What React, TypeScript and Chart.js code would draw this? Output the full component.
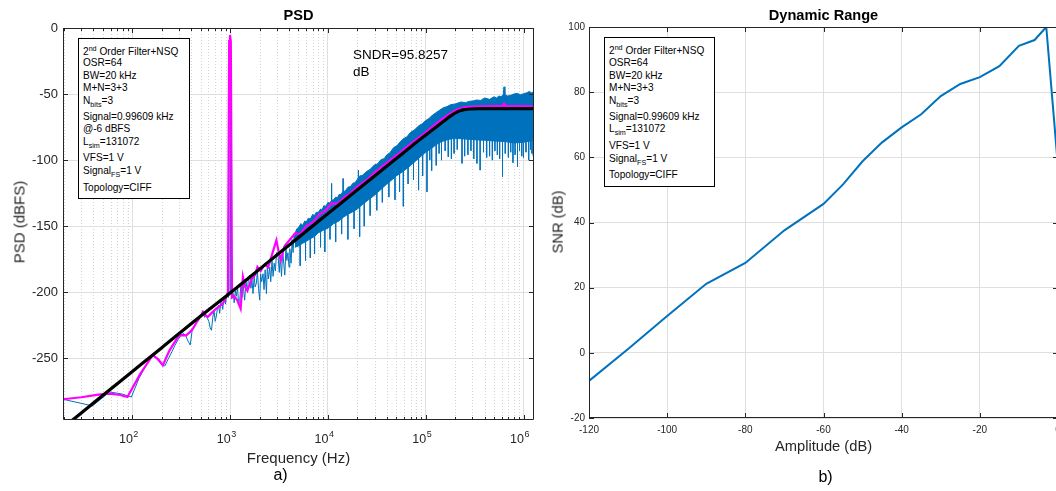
import React, { useEffect, useRef } from "react";
import { Chart, registerables } from "chart.js";

Chart.register(...registerables);

const FONT = "'Liberation Sans', Arial, Helvetica, sans-serif";
const AXIS_COLOR = "#262626";
const GRID = "#dfdfdf";
const MINOR_GRID = "#d4d4d4";
const BLUE = "#0072BD";
const MAGENTA = "#FF00FF";

// ---------------- PSD panel (a) ----------------
const freqMin = 19.53125;
const freqMax = 1280000;
const psdMin = -296.7;
const psdMax = 0;
const psdTicks = [-250, -200, -150, -100, -50, 0];
const freqDecades = [2, 3, 4, 5, 6];
const freqMinorMultiples = [1, 2, 3, 4, 5, 6, 7, 8, 9];
const freqTickExponents = [1, 2, 3, 4, 5, 6];

// blue PSD, low/mid frequency part (individual bins)
const blueFreq = [
  19.53, 39.06, 58.59, 78.13, 97.66, 117.2, 136.7, 156.3, 175.8, 195.3,
  214.8, 234.4, 253.9, 273.4, 293.0, 312.5, 332.0, 351.6, 371.1, 390.6,
  410.2, 429.7, 449.2, 468.8, 488.3, 507.8, 527.3, 546.9, 566.4, 585.9,
  605.5, 625.0, 644.5, 664.1, 683.6, 703.1, 722.7, 742.2, 761.7, 781.3,
  800.8, 820.3, 839.8, 859.4, 878.9, 898.4, 918.0, 937.5, 957.0, 976.6,
  996.1, 1015.6,
  1040, 1075, 1100, 1130, 1158, 1190, 1220, 1251, 1290, 1320,
  1353, 1380, 1408, 1450, 1500, 1540, 1585, 1630, 1670, 1713,
  1760, 1800, 1856, 1900, 1950, 2007, 2050, 2100, 2170, 2220,
  2280, 2351, 2400, 2460, 2542, 2600, 2680, 2748, 2820, 2900,
  2980, 3093, 3180, 3250, 3350, 3450, 3550, 3623, 3720, 3800,
  3900, 4000, 4076, 4200, 4300, 4400, 4500, 4586,
];
const bluePsd = [
  -281, -286, -275.5, -277, -279.3, -265, -256, -247.2, -250, -254,
  -255.8, -250, -245, -240, -236, -233, -231, -233, -237, -240,
  -228, -226, -223, -222, -219, -217, -214, -219, -217, -220,
  -222, -227, -228.8, -219, -214, -222, -218, -212, -210, -216,
  -208, -206, -213, -205, -203, -209, -202, -200, -204, -200,
  -6, -199,
  -203, -201, -208, -199, -203, -196, -209, -207, -194, -204,
  -191, -200, -206, -192, -199, -189, -187, -197, -190, -201,
  -188, -196, -193, -184, -197, -206, -186, -192, -186, -198,
  -183, -201, -180, -190, -181, -192, -176, -188, -178, -184,
  -170, -173, -185, -172, -188, -169, -180, -187, -166, -176,
  -170, -181, -167, -178, -160, -170, -157, -160,
];

// blue PSD, dense part: upper and lower edge of the band
const bandUpperFreq = [
  4586, 4800, 5000, 5300, 5500, 5800, 6000, 6300, 6600, 7000,
  7200, 7600, 8000, 8400, 8700, 9100, 9500, 10000, 10400, 10900,
  11400, 12000, 12500, 13000, 13600, 14300, 15000, 16000, 17000, 18000,
  19000, 20000, 20500, 21200, 22500, 25000, 27000, 30000, 32000, 35000,
  37500, 40000, 43000, 47000, 51000, 55000, 60000, 64000, 70000, 77000,
  85000, 92000, 100000, 108000, 115000, 125000, 137000, 150000, 165000, 180000,
  200000, 230000, 255000, 280000, 305000, 330000, 365000, 400000, 450000, 500000,
  530000, 560000, 590000, 620000, 632000, 645000, 690000, 750000, 810000, 870000,
  930000, 1000000, 1080000, 1150000, 1200000, 1280000,
];
const bandUpperPsd = [
  -156, -152, -151, -148, -149.5, -146, -147, -144, -144.5, -141,
  -142.5, -139.5, -139.5, -137, -137.5, -134.5, -135, -132, -132.5, -130.5,
  -130, -128, -128.5, -126, -126, -123.5, -123.5, -120.5, -120, -117.5,
  -117, -114.5, -113, -112, -111.5, -108.5, -107, -103.5, -103, -99.5,
  -99, -96, -94.5, -90.5, -89, -86, -83.5, -82.5, -79, -77,
  -74, -72.5, -70, -68.5, -66.5, -64.5, -62.5, -60.5, -59.5, -58,
  -57.5, -56, -56.5, -55.5, -55.2, -54.5, -54.8, -53, -54, -52,
  -53, -51.5, -52, -50.5, -44.5, -50.5, -51.5, -50.8, -49.8, -49.5,
  -50.5, -49.8, -49, -48, -49, -48.2,
];
const bandLowerFreq = [
  4586, 5000, 5500, 6000, 6600, 7200, 8000, 9000, 10000, 11500,
  13000, 14500, 16000, 18000, 20000, 23000, 26000, 30000, 35000, 40000,
  45000, 50000, 60000, 70000, 85000, 100000, 115000, 130000, 145000, 160000,
  180000, 200000, 250000, 300000, 400000, 500000, 650000, 800000, 1000000, 1280000,
];
const bandLowerPsd = [
  -166, -165, -163, -161.5, -159.5, -158, -155, -153, -151.5, -148,
  -146, -143, -141, -139, -137, -133, -130, -126.5, -122, -118,
  -115, -112, -108, -104, -98.5, -94, -91, -88, -86, -85,
  -84, -83.5, -84, -84.5, -85, -85.5, -86, -87, -86.5, -85,
];

// isolated blue spikes (from / to level)
const spikeFreq = [
  5200, 5900, 6600, 7300, 8400, 9300, 10500, 10900, 12000, 13800,
  14300, 16000, 18500, 20500, 21100, 23500, 27000, 31600, 36000, 42000,
  48500, 54000, 59000, 66000, 75000, 84500, 93000, 103000, 110000, 115000,
  128000, 137000, 145000, 158000, 170000, 183000, 195000, 210000, 235000, 250000,
  270000, 290000, 310000, 334000, 360000, 390000, 420000, 450000, 480000, 510000,
  540000, 570000, 610000, 650000, 700000, 740000, 780000, 820000, 868000, 910000,
  960000, 1000000, 1060000, 1130000, 1180000, 1220000, 1260000,
];
const spikeHigh = [
  -163, -160, -158, -156, -152, -150, -148, -117.7, -145, -141,
  -113.9, -139, -136, -107.6, -134, -131, -127, -123, -119, -115,
  -110, -108, -106, -103, -99, -96, -93, -91, -89, -88,
  -86, -85, -84, -83, -82, -82, -81, -81, -81, -81,
  -81, -81, -82, -82, -82, -82, -82, -82, -82, -83,
  -83, -83, -83, -83, -83, -84, -84, -84, -84, -84,
  -84, -84, -84, -83, -83, -82, -82,
];
const spikeLow = [
  -180, -176, -174, -171, -166, -169.5, -160, -132, -162, -156,
  -124, -160, -152, -114, -158, -150, -142, -138, -132, -128,
  -130, -124, -135, -118, -115, -122.7, -112, -124, -100, -108,
  -104, -95, -100, -93, -97.5, -99, -95, -92, -102.5, -97,
  -96, -93, -99, -102.5, -107.6, -94, -98, -97, -100, -93,
  -96, -99, -112.6, -95, -98, -94, -102, -96, -105, -93,
  -97, -98, -94, -100, -92, -95, -97,
];

// magenta (smoothed) PSD
const magentaFreq = [
  19.53, 30, 45, 58.6, 75, 89, 120, 162, 185, 205,
  240, 280, 303, 330, 355, 390, 417, 460, 500, 527,
  560, 590, 640, 690, 760, 845, 910, 950, 977, 996,
  1016, 1045, 1100, 1180, 1280, 1350, 1420, 1500, 1650, 1800,
  1900, 2050, 2250, 2450, 2640, 2970, 3150, 3300, 3600, 4000,
  4600, 5200, 6000, 7000, 8200, 9500, 10900, 12500, 14900, 17000,
  20000, 25000, 30000, 40000, 50000, 65000, 80000, 100000, 125000, 150000,
  180000, 210000, 250000, 300000, 400000, 500000, 600000, 620000, 632000, 645000,
  700000, 900000, 1100000, 1280000,
];
const magentaPsd = [
  -281, -279.5, -277.5, -276.8, -277.8, -279.3, -262, -247.5, -251, -255.3,
  -244, -236, -232.6, -232.5, -232.6, -230, -227.5, -222, -218, -215,
  -217.5, -218.7, -216, -213.6, -211, -208.6, -203.5, -201, -10, -5.3,
  -10, -204, -203, -206, -212.4, -188.4, -196, -199, -190, -187,
  -180.8, -184, -179, -181, -173, -160.6, -170, -175.8, -165, -161,
  -155.5, -156, -150, -147, -141, -138, -132.8, -133, -127.8, -125,
  -120, -115, -109.5, -102, -96.5, -89.5, -84.5, -79, -73, -68.5,
  -64.5, -61.5, -60, -59.5, -59.3, -59.2, -59.2, -58.5, -57.3, -58.8,
  -59.3, -59.2, -59.3, -59.3,
];

// black theoretical NTF line
const ntfFreq = [
  20, 50, 100, 200, 500, 1000, 2000, 5000, 10000, 20000,
  30000, 50000, 70000, 100000, 130000, 150000, 180000, 210000, 240000, 280000,
  350000, 500000, 1280000,
];
const ntfPsd = [
  -302, -278, -260, -242, -218, -200.5, -182.5, -158.5, -140.5, -122.5,
  -112, -98.8, -90, -81, -74.5, -71, -66.5, -63.5, -62, -61.3,
  -61, -61, -61,
];

// ---------------- Dynamic range panel (b) ----------------
const amplitudeDb = [-120, -110, -100, -90, -80, -70, -60, -55, -50, -45, -40, -35, -30, -25, -20, -15, -10, -6, -3, 0];
const snrDb = [-8.6, 1.2, 11.3, 21.2, 27.6, 37.6, 45.7, 51.7, 58.8, 64.6, 69.2, 73.2, 78.8, 82.5, 84.6, 88.0, 94.2, 96.0, 100.0, 57.0];
const drXTicks = [-120, -100, -80, -60, -40, -20, 0];
const drYTicks = [-20, 0, 20, 40, 60, 80, 100];

// ---------------- helpers ----------------
const pts = (xs: number[], ys: number[]) => xs.map((x, i) => ({ x, y: ys[i] }));
const isDecade = (v: number) => Math.abs(Math.log10(v) - Math.round(Math.log10(v))) < 1e-9;
const freqTickValues: number[] = [];
freqTickExponents.forEach((e) => {
  freqMinorMultiples.forEach((m) => {
    const v = m * Math.pow(10, e);
    if (v >= freqMin && v <= freqMax) freqTickValues.push(v);
  });
});

function boxPlugin(majorLen: number, minorLen: number, isMajorX: (v: number) => boolean) {
  return {
    id: "matlabBox",
    afterDatasetsDraw(chart: any) {
      const { ctx, chartArea: a, scales } = chart;
      const x = scales.x;
      const y = scales.y;
      ctx.save();
      ctx.strokeStyle = AXIS_COLOR;
      ctx.lineWidth = 1;
      ctx.setLineDash([]);
      ctx.beginPath();
      ctx.rect(a.left + 0.5, a.top + 0.5, a.right - a.left - 1, a.bottom - a.top - 1);
      ctx.stroke();
      ctx.beginPath();
      for (const t of x.ticks) {
        const px = Math.round(x.getPixelForValue(t.value)) + 0.5;
        if (px < a.left || px > a.right) continue;
        const len = isMajorX(t.value) ? majorLen : minorLen;
        ctx.moveTo(px, a.top);
        ctx.lineTo(px, a.top + len);
        ctx.moveTo(px, a.bottom);
        ctx.lineTo(px, a.bottom - len);
      }
      for (const t of y.ticks) {
        const py = Math.round(y.getPixelForValue(t.value)) + 0.5;
        ctx.moveTo(a.left, py);
        ctx.lineTo(a.left + majorLen, py);
        ctx.moveTo(a.right, py);
        ctx.lineTo(a.right - majorLen, py);
      }
      ctx.stroke();
      ctx.restore();
    },
  };
}

const minorGridPlugin = {
  id: "minorGrid",
  beforeDatasetsDraw(chart: any) {
    const { ctx, chartArea: a, scales } = chart;
    const x = scales.x;
    ctx.save();
    ctx.strokeStyle = MINOR_GRID;
    ctx.lineWidth = 1;
    ctx.setLineDash([1, 2]);
    ctx.beginPath();
    for (const t of x.ticks) {
      if (isDecade(t.value)) continue;
      const px = Math.round(x.getPixelForValue(t.value)) + 0.5;
      ctx.moveTo(px, a.top);
      ctx.lineTo(px, a.bottom);
    }
    ctx.stroke();
    ctx.restore();
  },
};

const expLabelPlugin = {
  id: "expLabels",
  afterDraw(chart: any) {
    const { ctx, chartArea: a, scales } = chart;
    const x = scales.x;
    ctx.save();
    ctx.fillStyle = AXIS_COLOR;
    ctx.textBaseline = "alphabetic";
    for (const e of freqDecades) {
      const px = x.getPixelForValue(Math.pow(10, e));
      ctx.font = `12.5px ${FONT}`;
      ctx.textAlign = "right";
      ctx.fillText("10", px + 0.5, a.bottom + 22.5);
      ctx.font = `9px ${FONT}`;
      ctx.textAlign = "left";
      ctx.fillText(String(e), px + 1, a.bottom + 16.5);
    }
    ctx.restore();
  },
};

function PsdChart() {
  const ref = useRef<HTMLCanvasElement>(null);
  useEffect(() => {
    const chart = new Chart(ref.current as HTMLCanvasElement, {
      type: "line",
      data: {
        datasets: [
          {
            data: pts(ntfFreq, ntfPsd),
            borderColor: "#000000",
            borderWidth: 3.2,
            pointRadius: 0,
            cubicInterpolationMode: "monotone",
            order: 0,
          },
          {
            data: pts(magentaFreq, magentaPsd),
            borderColor: MAGENTA,
            borderWidth: 2.2,
            pointRadius: 0,
            tension: 0,
            order: 1,
          },
          {
            data: pts(bandUpperFreq, bandUpperPsd),
            borderColor: BLUE,
            backgroundColor: BLUE,
            borderWidth: 1,
            pointRadius: 0,
            fill: "+1",
            order: 3,
          },
          {
            data: pts(bandLowerFreq, bandLowerPsd),
            borderColor: BLUE,
            borderWidth: 1,
            pointRadius: 0,
            fill: false,
            order: 3,
          },
          {
            data: spikeFreq.flatMap((f, i) => [
              { x: f, y: spikeHigh[i] },
              { x: f, y: spikeLow[i] },
              { x: f, y: null as any },
            ]),
            borderColor: BLUE,
            borderWidth: 1,
            pointRadius: 0,
            spanGaps: false,
            order: 2,
          },
          {
            data: pts(blueFreq, bluePsd),
            borderColor: BLUE,
            borderWidth: 1,
            pointRadius: 0,
            order: 2,
          },
        ],
      },
      options: {
        animation: false,
        responsive: false,
        devicePixelRatio: 1,
        events: [],
        layout: { padding: { left: 0, right: 6, top: 28, bottom: 0 } },
        plugins: { legend: { display: false }, tooltip: { enabled: false }, title: { display: false } },
        scales: {
          x: {
            type: "logarithmic",
            min: freqMin,
            max: freqMax,
            afterBuildTicks: (s: any) => {
              s.ticks = freqTickValues.map((v) => ({ value: v }));
            },
            afterFit: (s: any) => {
              s.height = 71;
            },
            ticks: { display: false, autoSkip: false },
            grid: {
              drawTicks: false,
              color: (c: any) => (c.tick && isDecade(c.tick.value) ? GRID : "rgba(0,0,0,0)"),
              lineWidth: 1,
            },
            border: { display: false },
          },
          y: {
            type: "linear",
            min: psdMin,
            max: psdMax,
            afterBuildTicks: (s: any) => {
              s.ticks = psdTicks.map((v) => ({ value: v }));
            },
            afterFit: (s: any) => {
              s.width = 63;
            },
            ticks: {
              autoSkip: false,
              padding: 5,
              color: AXIS_COLOR,
              font: { family: FONT, size: 13 },
              callback: (v: any) => `${v}`,
            },
            grid: { drawTicks: false, color: GRID, lineWidth: 1 },
            border: { display: false },
          },
        },
      },
      plugins: [minorGridPlugin, boxPlugin(5, 3, isDecade), expLabelPlugin],
    } as any);
    return () => chart.destroy();
  }, []);
  return (
    <canvas
      ref={ref}
      width={540}
      height={491}
      style={{ position: "absolute", left: 0, top: 0, width: 540, height: 491 }}
    />
  );
}

function DrChart() {
  const ref = useRef<HTMLCanvasElement>(null);
  useEffect(() => {
    const chart = new Chart(ref.current as HTMLCanvasElement, {
      type: "line",
      data: {
        datasets: [
          {
            data: pts(amplitudeDb, snrDb),
            borderColor: BLUE,
            borderWidth: 2,
            pointRadius: 0,
            tension: 0,
          },
        ],
      },
      options: {
        animation: false,
        responsive: false,
        devicePixelRatio: 1,
        events: [],
        layout: { padding: { left: 0, right: 22, top: 27, bottom: 0 } },
        plugins: { legend: { display: false }, tooltip: { enabled: false }, title: { display: false } },
        scales: {
          x: {
            type: "linear",
            min: -120,
            max: 0,
            afterBuildTicks: (s: any) => {
              s.ticks = drXTicks.map((v) => ({ value: v }));
            },
            afterFit: (s: any) => {
              s.height = 73;
            },
            ticks: {
              autoSkip: false,
              maxRotation: 0,
              padding: 6,
              color: AXIS_COLOR,
              font: { family: FONT, size: 10 },
              callback: (v: any) => `${v}`,
            },
            grid: { drawTicks: false, color: GRID, lineWidth: 1 },
            border: { display: false },
          },
          y: {
            type: "linear",
            min: -20,
            max: 100,
            afterBuildTicks: (s: any) => {
              s.ticks = drYTicks.map((v) => ({ value: v }));
            },
            afterFit: (s: any) => {
              s.width = 49;
            },
            ticks: {
              autoSkip: false,
              padding: 4,
              color: AXIS_COLOR,
              font: { family: FONT, size: 10 },
              callback: (v: any) => `${v}`,
            },
            grid: { drawTicks: false, color: GRID, lineWidth: 1 },
            border: { display: false },
          },
        },
      },
      plugins: [boxPlugin(5, 5, () => true)],
    } as any);
    return () => chart.destroy();
  }, []);
  return (
    <canvas
      ref={ref}
      width={540}
      height={491}
      style={{ position: "absolute", left: 540, top: 0, width: 540, height: 491 }}
    />
  );
}

// ---------------- text overlays ----------------
type LP = { x: number; y: number; size: number; bold?: boolean; center?: boolean; color?: string; children: any };
const Label = ({ x, y, size, bold, center, color, children }: LP) => (
  <div
    style={{
      position: "absolute",
      left: x,
      top: y - 0.49 * size,
      fontSize: size,
      lineHeight: `${size}px`,
      fontFamily: FONT,
      fontWeight: bold ? "bold" : "normal",
      color: color || "#000",
      whiteSpace: "nowrap",
      transform: center ? "translateX(-50%)" : undefined,
    }}
  >
    {children}
  </div>
);

const VLabel = ({ x, y, size, children }: { x: number; y: number; size: number; children: any }) => (
  <div
    style={{
      position: "absolute",
      left: x,
      top: y,
      fontSize: size,
      lineHeight: `${size}px`,
      fontFamily: FONT,
      color: AXIS_COLOR,
      whiteSpace: "nowrap",
      transform: "translate(-50%, -50%) rotate(-90deg)",
    }}
  >
    {children}
  </div>
);

const Sup = ({ t }: { t: string }) => (
  <span style={{ fontSize: 7.2, position: "relative", top: -4 }}>{t}</span>
);
const Sub = ({ t }: { t: string }) => (
  <span style={{ fontSize: 7.2, position: "relative", top: 3 }}>{t}</span>
);

const BOX_FS = 10.1;

function InfoBox({ left, top, width, height, textX, rows }: { left: number; top: number; width: number; height: number; textX: number; rows: { y: number; c: any }[] }) {
  return (
    <>
      <div
        style={{
          position: "absolute",
          left,
          top,
          width,
          height,
          boxSizing: "border-box",
          border: "1px solid #000",
          background: "#fff",
        }}
      />
      {rows.map((r, i) => (
        <Label key={i} x={textX} y={r.y} size={BOX_FS}>
          {r.c}
        </Label>
      ))}
    </>
  );
}

const leftRows = [
  { y: 51.7, c: <>2<Sup t="nd" /> Order Filter+NSQ</> },
  { y: 62.5, c: <>OSR=64</> },
  { y: 75.8, c: <>BW=20 kHz</> },
  { y: 87.5, c: <>M+N=3+3</> },
  { y: 100.7, c: <>N<Sub t="bits" />=3</> },
  { y: 116.7, c: <>Signal=0.99609 kHz</> },
  { y: 128.7, c: <>@-6 dBFS</> },
  { y: 141.7, c: <>L<Sub t="sim" />=131072</> },
  { y: 157.7, c: <>VFS=1 V</> },
  { y: 170.8, c: <>Signal<Sub t="FS" />=1 V</> },
  { y: 188.3, c: <>Topology=CIFF</> },
];

const rightRows = [
  { y: 51.3, c: <>2<Sup t="nd" /> Order Filter+NSQ</> },
  { y: 62.5, c: <>OSR=64</> },
  { y: 75.8, c: <>BW=20 kHz</> },
  { y: 87.5, c: <>M+N=3+3</> },
  { y: 100.7, c: <>N<Sub t="bits" />=3</> },
  { y: 116.7, c: <>Signal=0.99609 kHz</> },
  { y: 129.3, c: <>L<Sub t="sim" />=131072</> },
  { y: 146, c: <>VFS=1 V</> },
  { y: 158.7, c: <>Signal<Sub t="FS" />=1 V</> },
  { y: 175, c: <>Topology=CIFF</> },
];

export default function App() {
  return (
    <div
      style={{
        position: "fixed",
        left: 0,
        top: 0,
        width: 1056,
        height: 491,
        overflow: "hidden",
        background: "#fff",
      }}
    >
      <PsdChart />
      <DrChart />

      {/* panel a */}
      <Label x={298.5} y={15.5} size={14.6} bold center>
        PSD
      </Label>
      <VLabel x={19} y={222} size={15}>
        PSD (dBFS)
      </VLabel>
      <Label x={298.5} y={457.2} size={15} center color={AXIS_COLOR}>
        Frequency (Hz)
      </Label>
      <Label x={280.5} y={475} size={16} center>
        a)
      </Label>
      <Label x={353} y={55} size={13.5}>
        SNDR=95.8257
      </Label>
      <Label x={353} y={71.7} size={13.5}>
        dB
      </Label>
      <InfoBox left={78} top={38} width={112} height={161} textX={83} rows={leftRows} />

      {/* panel b */}
      <Label x={823.5} y={15.5} size={14.6} bold center>
        Dynamic Range
      </Label>
      <VLabel x={557.5} y={221.5} size={14.7}>
        SNR (dB)
      </VLabel>
      <Label x={823.5} y={446.7} size={14.7} center color={AXIS_COLOR}>
        Amplitude (dB)
      </Label>
      <Label x={825.5} y={476.5} size={16} center>
        b)
      </Label>
      <InfoBox left={604} top={37} width={111} height={150} textX={609} rows={rightRows} />
    </div>
  );
}
